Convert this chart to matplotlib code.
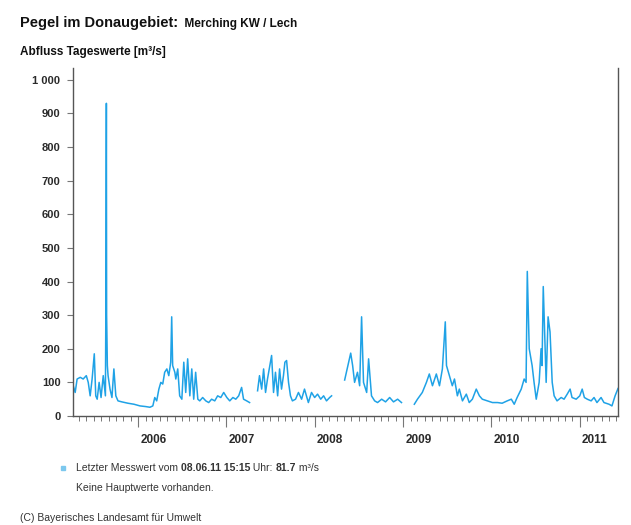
import numpy as np
import pandas as pd
import matplotlib
matplotlib.use("Agg")
import matplotlib.pyplot as plt
import matplotlib.dates as mdates
import matplotlib.transforms as mtransforms
from matplotlib.ticker import FuncFormatter

plt.rcParams['font.family'] = ['Liberation Sans', 'DejaVu Sans']

# ---- data: daily discharge (approximate reading), None = gap ----
dates = [
    "2005-04-08", "2005-04-16", "2005-04-24", "2005-05-07", "2005-05-19", "2005-06-01",
    "2005-06-09", "2005-06-17", "2005-06-25", "2005-07-04", "2005-07-10", "2005-07-16",
    "2005-07-24", "2005-08-01", "2005-08-10", "2005-08-19", "2005-08-21", "2005-08-23",
    "2005-08-24", "2005-08-27", "2005-08-30", "2005-09-07", "2005-09-15", "2005-09-23",
    "2005-10-01", "2005-10-10", "2005-10-26", "2005-11-20", "2005-12-15",
    "2006-01-09", "2006-02-02", "2006-02-19", "2006-03-03", "2006-03-11", "2006-03-19",
    "2006-03-28", "2006-04-05", "2006-04-13", "2006-04-21", "2006-04-30", "2006-05-08",
    "2006-05-16", "2006-05-20", "2006-05-24", "2006-06-02", "2006-06-06", "2006-06-14",
    "2006-06-22", "2006-07-01", "2006-07-09", "2006-07-17", "2006-07-25", "2006-08-03",
    "2006-08-11", "2006-08-19", "2006-08-27", "2006-09-05", "2006-09-13", "2006-09-25",
    "2006-10-08", "2006-10-20", "2006-11-01", "2006-11-14", "2006-11-26", "2006-12-09",
    "2006-12-21",
    "2007-01-03", "2007-01-15", "2007-01-28", "2007-02-09", "2007-02-21", "2007-03-05",
    "2007-03-13", "2007-03-26", "2007-04-07", "2007-04-25",
    "2007-05-10", "2007-05-18", "2007-05-27", "2007-06-04", "2007-06-12", "2007-06-20",
    "2007-07-07", "2007-07-15", "2007-07-23", "2007-08-01", "2007-08-09", "2007-08-17",
    "2007-08-25", "2007-08-31", "2007-09-07", "2007-09-15", "2007-09-23", "2007-10-01",
    "2007-10-14", "2007-10-26", "2007-11-08", "2007-11-20", "2007-11-28", "2007-12-06",
    "2007-12-19",
    "2008-01-01", "2008-01-13", "2008-01-26", "2008-02-07", "2008-02-19", "2008-03-03",
    "2008-03-11", "2008-04-10",
    "2008-05-04", "2008-05-16", "2008-05-29", "2008-06-06", "2008-06-14", "2008-06-26",
    "2008-07-05", "2008-07-13", "2008-07-21", "2008-08-03", "2008-08-11", "2008-08-23",
    "2008-09-05", "2008-09-17", "2008-10-04", "2008-10-20", "2008-11-06", "2008-11-22",
    "2008-12-09", "2008-12-25", "2009-01-20",
    "2009-02-16", "2009-03-01", "2009-03-21", "2009-04-07", "2009-04-19", "2009-05-02",
    "2009-05-18", "2009-05-31", "2009-06-12", "2009-06-24", "2009-06-29", "2009-07-11",
    "2009-07-23", "2009-08-01", "2009-08-13", "2009-08-21", "2009-09-03", "2009-09-19",
    "2009-10-01", "2009-10-14", "2009-10-30", "2009-11-12", "2009-11-24", "2009-12-15",
    "2010-01-05", "2010-01-26", "2010-02-14", "2010-03-07", "2010-03-24", "2010-04-05",
    "2010-04-17", "2010-05-04", "2010-05-16", "2010-05-24", "2010-05-29", "2010-06-06",
    "2010-06-18", "2010-06-26", "2010-07-05", "2010-07-17", "2010-07-25", "2010-07-29",
    "2010-08-03", "2010-08-11", "2010-08-15", "2010-08-23", "2010-08-31", "2010-09-09",
    "2010-09-17", "2010-09-29", "2010-10-16", "2010-10-28", "2010-11-10", "2010-11-22",
    "2010-11-30", "2010-12-17",
    "2011-01-01", "2011-01-11", "2011-01-20", "2011-02-01", "2011-02-17", "2011-03-01",
    "2011-03-13", "2011-03-30", "2011-04-11", "2011-05-02", "2011-05-14", "2011-05-27",
    "2011-06-08",
]
discharge = [
    90, 70, 110, 115, 110, 120,
    100, 60, 110, 185, 60, 50,
    100, 55, 120, 60, 340, 930,
    300, 150, 120, 80, 55, 140,
    60, 45, 42, 38, 35,
    30, 28, 26, 30, 55, 45,
    80, 100, 95, 130, 140, 120,
    160, 295, 150, 130, 110, 140,
    60, 50, 160, 70, 170, 60,
    140, 50, 130, 50, 45, 55,
    45, 40, 50, 45, 60, 55,
    70,
    55, 45, 55, 50, 60, 85,
    50, 45, 40, None,
    75, 120, 80, 140, 70, 110,
    180, 70, 130, 60, 140, 80,
    120, 160, 165, 100, 60, 45,
    50, 70, 50, 80, 60, 40,
    70,
    55, 65, 50, 60, 45, 55,
    60, None,
    107, 145, 187, 150, 100, 130,
    90, 295, 100, 70, 170, 60,
    45, 40, 50, 42, 55, 42,
    50, 40, None,
    35, 50, 70, 100, 125, 90,
    125, 90, 140, 280, 150, 120,
    90, 110, 60, 80, 45, 65,
    40, 50, 80, 60, 50, 45,
    40, 40, 38, 45, 50, 35,
    55, 80, 110, 100, 430, 200,
    150, 100, 50, 100, 200, 150,
    385, 200, 100, 295, 250, 100,
    60, 45, 55, 50, 65, 80,
    55, 50,
    60, 80, 55, 50, 45, 55,
    40, 55, 40, 35, 30, 60,
    81.7,
]
y_ticks = [0, 100, 200, 300, 400, 500, 600, 700, 800, 900, 1000]

x = pd.to_datetime(dates)
y = np.array([np.nan if v is None else v for v in discharge], dtype=float)

W, H = 631, 525
fig = plt.figure(figsize=(W / 100, H / 100), dpi=100)
ax = fig.add_axes([73 / W, 1 - 416 / H, (618 - 73) / W, (416 - 68) / H])

line_col = '#1fa2e6'
ax.plot(x, y, color=line_col, lw=1.1)

ax.set_xlim(pd.Timestamp("2005-04-07"), pd.Timestamp("2011-06-08"))
ax.set_ylim(0, 1035)

txt = '#2a2a2a'
spine_col = '#555555'
ax.spines['top'].set_visible(False)
for s in ['left', 'right', 'bottom']:
    ax.spines[s].set_color(spine_col)
    ax.spines[s].set_linewidth(1.0)

ax.set_yticks(y_ticks)
ax.yaxis.set_major_formatter(FuncFormatter(lambda v, p: f"{int(v):,}".replace(",", " ")))
ax.tick_params(axis='y', which='major', length=4, width=0.8, color='#777777',
               labelsize=8, labelcolor=txt, pad=5)
for lab in ax.get_yticklabels():
    lab.set_fontweight('bold')

ax.xaxis.set_major_locator(mdates.YearLocator())
ax.xaxis.set_major_formatter(mdates.DateFormatter('%Y'))
ax.xaxis.set_minor_locator(mdates.MonthLocator())
ax.tick_params(axis='x', which='major', length=8, width=0.8, color='#777777',
               labelsize=8.5, labelcolor=txt, pad=5)
ax.tick_params(axis='x', which='minor', length=3.5, width=0.7, color='#777777')
offset = mtransforms.ScaledTranslation(1.5 / 72, 0, fig.dpi_scale_trans)
for lab in ax.get_xticklabels():
    lab.set_ha('left')
    lab.set_fontweight('bold')
    lab.set_transform(lab.get_transform() + offset)


def chain_text(x0_px, y_px, parts, gap_px=0, **kw):
    """Draw consecutive text pieces on one baseline, starting at x0_px."""
    fig.canvas.draw()
    r = fig.canvas.get_renderer()
    xcur = x0_px
    for i, (s, w, fs) in enumerate(parts):
        t = fig.text(xcur / W, 1 - y_px / H, s, fontweight=w, fontsize=fs,
                     va='baseline', ha='left', **kw)
        bb = t.get_window_extent(r)
        xcur = bb.x1 + gap_px


# ---- header texts ----
chain_text(20, 27, [("Pegel im Donaugebiet:", 'bold', 10.5),
                    ("  Merching KW / Lech", 'bold', 8.5)], color='#111111')
fig.text(20 / W, 1 - 52 / H, "Abfluss Tageswerte [m³/s]", fontsize=8.5, fontweight='bold',
         color='#111111', va='center', ha='left')

# ---- legend / footnote ----
fig.patches.append(plt.Rectangle((61 / W, 1 - 470 / H), 4 / W, 4 / H,
                                 transform=fig.transFigure, color='#7cc8ee',
                                 figure=fig))
chain_text(76, 471, [("Letzter Messwert vom ", 'normal', 7.5),
                     ("08.06.11 15:15", 'bold', 7.5),
                     (" Uhr: ", 'normal', 7.5),
                     ("81.7", 'bold', 7.5),
                     (" m³/s", 'normal', 7.5)], color='#333333')
fig.text(76 / W, 1 - 488 / H, "Keine Hauptwerte vorhanden.", fontsize=7.5,
         color='#333333', va='center', ha='left')
fig.text(20 / W, 1 - 518 / H, "(C) Bayerisches Landesamt für Umwelt", fontsize=7.5,
         color='#333333', va='center', ha='left')

fig.savefig("out.png", dpi=100)
